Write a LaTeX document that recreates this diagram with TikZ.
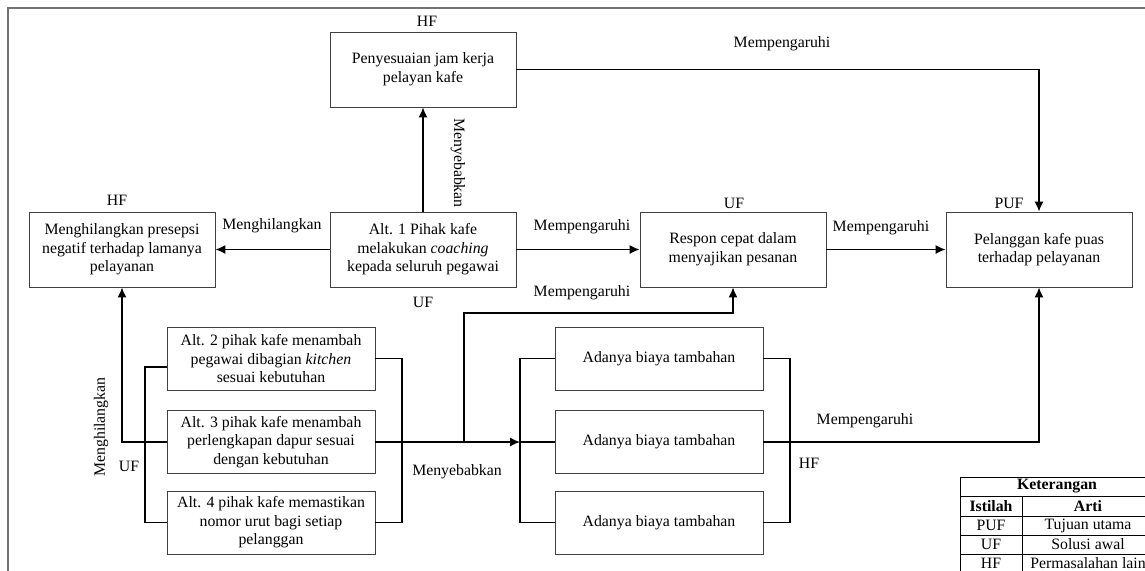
\documentclass[tikz,border=0pt]{standalone}
\usepackage{fontspec}
\setmainfont{Liberation Serif}
\usetikzlibrary{positioning,arrows.meta}

\begin{document}
\begin{tikzpicture}[
x=0.5pt,y=-0.5pt,
font=\fontsize{7.9}{9.3}\selectfont,
kotak/.style={
  draw=black!75,
  line width=0.45pt,
  align=center,
  minimum width=93pt,
  minimum height=37.5pt,
  inner sep=1pt
},
altbox/.style={
  kotak,
  minimum width=104pt,
  minimum height=31.5pt
},
garis/.style={
  line width=0.8pt
},
panah/.style={
  garis,
  -{Latex[length=5pt,width=4.6pt]}
},
tabel/.style={
  line width=0.5pt
},
tebal/.style={
  font=\fontsize{7.9}{9.3}\selectfont\bfseries
}
]
\useasboundingbox (0,0) rectangle (1145,570);
\draw[black!55,line width=0.6pt] (8,8) rectangle (1170,590);

% kotak atas
\node[kotak] (pjk) at (423,69.5) 
  {Penyesuaian jam kerja\\pelayan kafe};
\node[kotak] (mpn) at (122,249.5) 
  {Menghilangkan presepsi\\negatif terhadap lamanya\\pelayanan};
\node[kotak] (alt1) at (423,249.5) 
  {Alt. 1 Pihak kafe\\melakukan \textit{coaching}\\kepada seluruh pegawai};
\node[kotak] (rsp) at (733,249.5) 
  {Respon cepat dalam\\menyajikan pesanan};
\node[kotak] (plg) at (1039,249.5) 
  {Pelanggan kafe puas\\terhadap pelayanan};

% alternatif
\node[altbox] (alt2) at (271,358.5) 
  {Alt. 2 pihak kafe menambah\\pegawai dibagian \textit{kitchen}\\sesuai kebutuhan};
\node[altbox] (alt3) at (271,442) 
  {Alt. 3 pihak kafe menambah\\perlengkapan dapur sesuai\\dengan kebutuhan};
\node[altbox] (alt4) at (271,522.5) 
  {Alt. 4 pihak kafe memastikan\\nomor urut bagi setiap\\pelanggan};

% biaya
\node[altbox] (ada1) at (659,358.5) {Adanya biaya tambahan};
\node[altbox] (ada2) at (659,442) {Adanya biaya tambahan};
\node[altbox] (ada3) at (659,522.5) {Adanya biaya tambahan};

% keterangan faktor
\node (hf1) at (427,21) {HF};
\node (hf2) at (117,200) {HF};
\node (uf1) at (423,302) {UF};
\node (uf2) at (734,203) {UF};
\node (puf) at (1009,203) {PUF};
\node (uf3) at (129,466) {UF};
\node (hf3) at (809,463) {HF};

% titik bantu
\coordinate (c1) at (1039,69.5);
\coordinate (l2) at (145,367);
\coordinate (l4) at (145,522.5);
\coordinate (m3) at (122,442);
\coordinate (r2) at (402,358.5);
\coordinate (r4) at (402,522.5);
\coordinate (s1) at (520,358.5);
\coordinate (s2) at (520,442);
\coordinate (s3) at (520,522.5);
\coordinate (b1) at (464,442);
\coordinate (b2) at (464,313);
\coordinate (b3) at (733,313);
\coordinate (t1) at (790,358.5);
\coordinate (t3) at (790,522.5);
\coordinate (t2) at (1039,442);

% panah
\draw[panah] (pjk.east) -- (c1) -- (plg.north);
\draw[panah] (alt1) -- (pjk);
\draw[panah] (alt1) -- (mpn);
\draw[panah] (alt1) -- (rsp);
\draw[panah] (rsp) -- (plg);

\draw[garis] (alt2.west |- l2) -- (l2) -- (l4) -- (alt4.west);
\draw[panah] (alt3.west) -- (m3) -- (mpn.south);
\draw[garis] (alt2.east) -- (r2) -- (r4) -- (alt4.east);
\draw[panah] (alt3.east) -- (s2);
\draw[panah] (b1) -- (b2) -- (b3) -- (rsp.south);
\draw[garis] (ada1.west) -- (s1) -- (s3) -- (ada3.west);
\draw[garis] (s2) -- (ada2.west);
\draw[garis] (ada1.east) -- (t1) -- (t3) -- (ada3.east);
\draw[panah] (ada2.east) -- (t2) -- (plg.south);

% label panah
\node (lb1) at (782,44) {Mempengaruhi};
\node[rotate=-90] (lb2) at (458,163) {Menyebabkan};
\node (lb3) at (272,226) {Menghilangkan};
\node (lb4) at (582,227) {Mempengaruhi};
\node (lb5) at (582,293) {Mempengaruhi};
\node (lb6) at (881,228) {Mempengaruhi};
\node[rotate=90] (lb7) at (101,427) {Menghilangkan};
\node (lb8) at (457,472) {Menyebabkan};
\node (lb9) at (865,421) {Mempengaruhi};

% tabel keterangan
\draw[tabel] (960,477) rectangle (1154,573);
\foreach \y in {496,516,535,554}
  \draw[tabel] (960,\y) -- (1154,\y);
\draw[tabel] (1022,496) -- (1022,573);
\node[tebal] (tk) at (1057,486.5) {Keterangan};
\node[tebal] (ti) at (991,506) {Istilah};
\node[tebal] (ta) at (1088,506) {Arti};
\node (tp1) at (991,525.5) {PUF};
\node (tp2) at (1088,525.5) {Tujuan utama};
\node (tu1) at (991,544.5) {UF};
\node (tu2) at (1088,544.5) {Solusi awal};
\node (th1) at (991,563.5) {HF};
\node (th2) at (1088,563.5) {Permasalahan lain};
\end{tikzpicture}
\end{document}
